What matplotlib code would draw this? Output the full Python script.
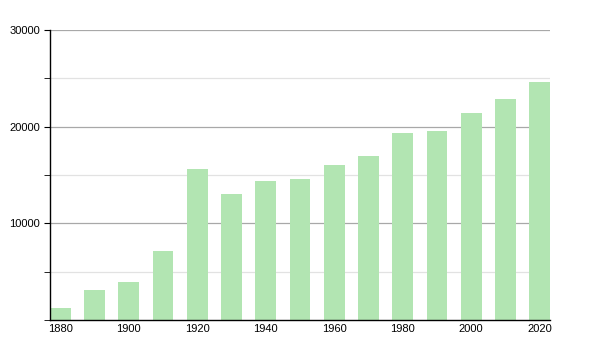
import matplotlib
matplotlib.use("Agg")
import matplotlib.pyplot as plt
from matplotlib.ticker import MultipleLocator

years = [1880, 1890, 1900, 1910, 1920, 1930, 1940, 1950, 1960, 1970, 1980, 1990, 2000, 2010, 2020]
population = [1250, 3100, 3930, 7140, 15600, 13030, 14370, 14580, 16030, 16960, 19340, 19540, 21440, 22850, 24610]
xtick_labels = [1880, 1900, 1920, 1940, 1960, 1980, 2000, 2020]
ytick_labels = [10000, 20000, 30000]

plt.rcParams['font.family'] = ['Liberation Sans', 'DejaVu Sans']
fig = plt.figure(figsize=(6, 3.5), dpi=100)
ax = fig.add_axes([50/600, 30/350, 500/600, 290/350])

ax.bar(years, population, width=6, color='#b2e5b2', zorder=2)

ax.set_xlim(1877, 2023)
ax.set_ylim(0, 30000)
ax.set_xticks(xtick_labels)
ax.set_xticklabels([str(v) for v in xtick_labels])
ax.set_yticks(ytick_labels)
ax.set_yticklabels([str(v) for v in ytick_labels])
ax.yaxis.set_minor_locator(MultipleLocator(5000))

for v in ytick_labels:
    ax.axhline(v, color='#a8a8a8', lw=0.9, zorder=1)
for v in [5000, 15000, 25000]:
    ax.axhline(v, color='#e2e2e2', lw=0.9, zorder=1)

for s in ['top', 'right']:
    ax.spines[s].set_visible(False)
ax.spines['left'].set_color('black')
ax.spines['bottom'].set_color('black')
ax.spines['left'].set_linewidth(1)
ax.spines['bottom'].set_linewidth(1)
ax.spines['left'].set_zorder(3)
ax.spines['bottom'].set_zorder(3)

ax.tick_params(axis='x', length=0, labelsize=8, pad=3)
ax.tick_params(axis='y', which='major', length=4, labelsize=8, pad=3)
ax.tick_params(axis='y', which='minor', length=4)

fig.savefig('out.png', dpi=100)
